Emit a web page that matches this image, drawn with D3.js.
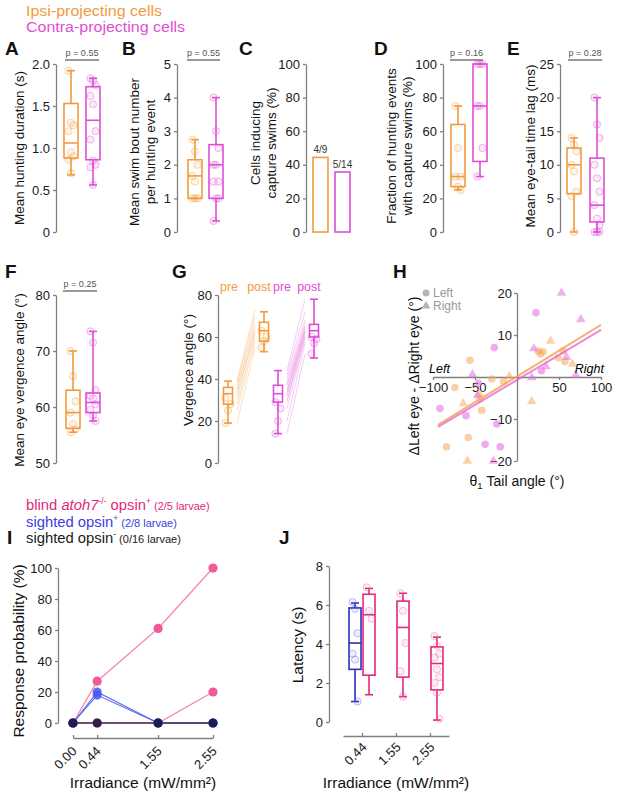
<!DOCTYPE html>
<html>
<head>
<meta charset="utf-8">
<script src="https://cdn.jsdelivr.net/npm/d3@7/dist/d3.min.js"></script>
<style>
  body { margin: 0; background: #fff; }
  svg { font-family: "Liberation Sans", Arial, sans-serif; }
  .axis path, .axis line { stroke: #808080; stroke-width: 1.3; }
  .axis text { font-size: 13px; fill: #1a1a1a; }
</style>
</head>
<body>
<svg id="fig" width="617" height="795"></svg>
<script>
// colours
const ORANGE = '#f29b3c';
const MAGENTA = '#df4ed6';
const PINK = '#e3287c';
const BLUE = '#2e2ec4';

// ---------- data ----------
const groups = ['ipsi', 'contra'];
// box stats: [whisker low, q1, median, q3, whisker high]
const durationIpsiBox = [0.68, 0.88, 1.06, 1.53, 1.92];
const durationContraBox = [0.56, 0.86, 1.33, 1.73, 1.83];
const durationIpsiPts = [1.92, 1.3, 1.27, 1.2, 0.95, 0.9, 0.86, 0.7];
const durationContraPts = [1.83, 1.8, 1.75, 1.62, 1.52, 1.2, 1.1, 0.85, 0.8, 0.77, 0.56];

const boutsIpsiBox = [1.0, 1.0, 1.67, 2.15, 2.75];
const boutsContraBox = [0.33, 1.0, 2.0, 2.6, 4.0];
const boutsIpsiPts = [2.75, 2.4, 2.0, 1.67, 1.5, 1.0, 1.0, 1.0];
const boutsContraPts = [4.0, 3.0, 2.5, 2.0, 2.0, 1.5, 1.5, 1.0, 1.0, 0.33];

const captureCellsPct = [44.4, 35.7];
const captureCellsLabels = ['4/9', '5/14'];

const fractionIpsiBox = [25, 27, 33, 64, 75];
const fractionContraBox = [33, 42, 75, 100, 100];
const fractionIpsiPts = [75, 50, 33, 33, 27, 25];
const fractionContraPts = [100, 100, 100, 75, 75, 50, 33];

const lagIpsiBox = [0, 5.7, 10, 12.5, 14];
const lagContraBox = [0, 1.5, 4, 11, 20];
const lagIpsiPts = [14, 13, 12, 10, 9, 6, 5.3, 0];
const lagContraPts = [20, 16, 14, 10, 8, 6, 4, 2, 1, 0, 0, 0];

const vergIpsiBox = [55.5, 56.2, 59, 63, 70];
const vergContraBox = [57.5, 59, 60.8, 62.5, 73.5];
const vergIpsiPts = [70, 65.5, 61, 59, 57, 56, 55.5];
const vergContraPts = [73.5, 71.5, 63, 62, 61.5, 60.5, 59.5, 58.5, 57.5];

const gKeys = ['ipsiPre', 'ipsiPost', 'contraPre', 'contraPost'];
const gBoxes = [[19, 28, 33, 36, 39], [53, 58, 63, 67, 72], [14, 29, 33, 37, 44], [50, 60, 63, 66, 78]];
const ipsiPre = [19, 25, 28, 31, 33, 35, 36, 38, 39];
const ipsiPost = [55, 58, 60, 63, 62, 65, 67, 70, 73];
const contraPre = [14, 20, 26, 29, 30, 32, 33, 34, 35, 37, 38, 40, 42, 44];
const contraPost = [52, 57, 59, 60, 61, 62, 63, 63, 64, 65, 66, 68, 72, 78];

// H: [tail angle, delta vergence]
const hIpsiLeft = [[-56, 4.0], [-74, -2.5], [-30, -0.5], [-16, -1.1], [-44, -5.2], [-42, -7.9], [-58, -14.4], [-84, -16.6], [25, 6.2], [28, 5.5], [31, 6.0], [49, 4.6], [57, 3.7], [55, 6.2]];
const hIpsiRight = [[-9, 0.1], [40, 8.6], [66, 3.1], [17.5, -5.8], [-64, -6.3], [-59, -20], [-45, -4]];
const hContraLeft = [[22.6, 15.3], [-27, 7.0], [-91.7, -7.5], [-60.7, -9.2], [-24, -11.2], [-38, -16], [-20, -16.6], [29, 1.5], [-46, -1.5]];
const hContraRight = [[53, 20], [76, 13.7], [20, 6.8], [34.5, 2.5], [59, 4.7], [-53, 0.6], [-47, -4.4], [70, 0.4], [17.5, -0.1], [-28, -20]];
const hIpsiFit = [[-94, -11.4], [100, 12.4]];
const hContraFit = [[-94, -11.9], [100, 11.2]];

// I
const irradiance = [0, 0.44, 1.55, 2.55];
const blindSeries = [[0, 27, 61, 100], [0, 0, 0, 20]];
const sightedSeries = [[0, 20, 0, 0], [0, 18, 0, 0]];
const opsinNegSeries = [[0, 0, 0, 0]];

// J
const latencyLevels = ['0.44', '1.55', '2.55'];
const latencySightedBox = [1.05, 2.7, 4.05, 5.85, 6.1];
const latencySightedPts = [6.15, 5.8, 4.55, 3.5, 3.2, 1.05];
const latencyBlindBoxes = [[1.4, 2.4, 5.5, 6.55, 6.85], [1.3, 2.3, 4.85, 6.2, 6.6], [0.1, 1.65, 3.0, 3.85, 4.35]];
const latencyBlindPts = [[6.9, 5.7, 5.3], [6.6, 5.7, 4.05, 2.6, 1.3], [4.4, 3.9, 3.5, 3.3, 2.7, 2.3, 2.0, 1.5, 0.15]];

// ---------- helpers ----------
const svg = d3.select('#fig');

function letter(t, x, y) {
    svg.append('text').attr('x', x).attr('y', y)
        .attr('font-size', 19).attr('font-weight', 'bold').attr('fill', '#111').text(t);
}

function yTitle(lines, x, y, size, gap) {
    const t = svg.append('text')
        .attr('transform', `translate(${x},${y}) rotate(-90)`)
        .attr('text-anchor', 'middle').attr('font-size', size).attr('fill', '#111');
    lines.forEach((l, i) => t.append('tspan').attr('x', 0).attr('dy', i ? gap : 0).text(l));
    return t;
}

function leftAxis(x, y, ticks, fmt) {
    return svg.append('g').attr('class', 'axis').attr('transform', `translate(${x},0)`)
        .call(d3.axisLeft(y).tickValues(ticks).tickFormat(fmt)
            .tickSizeInner(3).tickSizeOuter(0).tickPadding(3));
}

function drawBox(cx, y, s, color, w) {
    const [lo, q1, med, q3, hi] = s;
    const g = svg.append('g').attr('stroke', color).attr('stroke-width', 1.6).attr('fill', 'none');
    g.append('line').attr('x1', cx).attr('x2', cx).attr('y1', y(lo)).attr('y2', y(q1));
    g.append('line').attr('x1', cx).attr('x2', cx).attr('y1', y(q3)).attr('y2', y(hi));
    [lo, hi].forEach(v => g.append('line')
        .attr('x1', cx - 4).attr('x2', cx + 4).attr('y1', y(v)).attr('y2', y(v)));
    g.append('rect').attr('x', cx - w / 2).attr('y', y(q3))
        .attr('width', w).attr('height', y(q1) - y(q3));
    g.append('line').attr('x1', cx - w / 2).attr('x2', cx + w / 2)
        .attr('y1', y(med)).attr('y2', y(med));
}

function drawDots(cx, y, vals, color) {
    svg.append('g').selectAll('circle').data(vals).join('circle')
        .attr('cx', (d, i) => cx + ((i % 3) - 1) * 2.5)
        .attr('cy', d => y(d)).attr('r', 3.6)
        .attr('fill', color).attr('fill-opacity', 0.12)
        .attr('stroke', color).attr('stroke-opacity', 0.4).attr('stroke-width', 1);
}

function pValue(x1, x2, yLine, label) {
    svg.append('line').attr('x1', x1).attr('x2', x2).attr('y1', yLine).attr('y2', yLine)
        .attr('stroke', '#777').attr('stroke-width', 1.3);
    svg.append('text').attr('x', (x1 + x2) / 2).attr('y', yLine - 4)
        .attr('text-anchor', 'middle').attr('font-size', 9).attr('fill', '#555').text(label);
}

const fmt1 = d => d === 0 ? '0' : d.toFixed(1);
const fmt0 = d => String(d);

function boxPanel(o) {
    const y = d3.scaleLinear().domain(o.domain).range([o.bottom, o.top]);
    leftAxis(o.axisX, y, o.ticks, o.fmt);
    const x = d3.scalePoint().domain(groups).range(o.centers);
    const colors = [ORANGE, MAGENTA];
    groups.forEach((g, i) => {
        drawBox(x(g), y, o.boxes[i], colors[i], o.w || 14);
        drawDots(x(g), y, o.pts[i], colors[i]);
    });
    if (o.p) pValue(o.p[0], o.p[1], o.p[2], o.p[3]);
    return y;
}

// ---------- top legend ----------
svg.append('text').attr('x', 26).attr('y', 16).attr('font-size', 14).attr('fill', ORANGE)
    .attr('textLength', 136).attr('lengthAdjust', 'spacingAndGlyphs')
    .text('Ipsi-projecting cells');
svg.append('text').attr('x', 26).attr('y', 31.5).attr('font-size', 14).attr('fill', MAGENTA)
    .attr('textLength', 159).attr('lengthAdjust', 'spacingAndGlyphs')
    .text('Contra-projecting cells');

// ---------- A ----------
letter('A', 5, 55);
boxPanel({ axisX: 56, top: 64, bottom: 232, domain: [0, 2], ticks: [0, 0.5, 1, 1.5, 2], fmt: fmt1,
    centers: [71, 93], boxes: [durationIpsiBox, durationContraBox],
    pts: [durationIpsiPts, durationContraPts], p: [65, 99, 60, 'p = 0.55'] });
yTitle(['Mean hunting duration (s)'], 24, 148, 13.5, 0);

// ---------- B ----------
letter('B', 122, 55);
boxPanel({ axisX: 177, top: 64, bottom: 232, domain: [0, 5], ticks: [0, 1, 2, 3, 4, 5], fmt: fmt0,
    centers: [195, 216], boxes: [boutsIpsiBox, boutsContraBox],
    pts: [boutsIpsiPts, boutsContraPts], p: [187, 220, 60, 'p = 0.55'] });
yTitle(['Mean swim bout number', 'per hunting event'], 139, 152, 13.5, 16);

// ---------- C ----------
letter('C', 239, 55);
{
    const y = d3.scaleLinear().domain([0, 100]).range([232, 64]);
    leftAxis(306, y, [0, 20, 40, 60, 80, 100], fmt0);
    const x = d3.scaleBand().domain(groups).range([313, 350]).paddingInner(0.32).paddingOuter(0);
    const colors = [ORANGE, MAGENTA];
    svg.append('g').selectAll('rect').data(captureCellsPct).join('rect')
        .attr('x', (d, i) => x(groups[i])).attr('width', x.bandwidth())
        .attr('y', d => y(d)).attr('height', d => y(0) - y(d))
        .attr('fill', 'none').attr('stroke', (d, i) => colors[i]).attr('stroke-width', 1.6);
    svg.append('g').selectAll('text').data(captureCellsPct).join('text')
        .attr('x', (d, i) => x(groups[i]) + x.bandwidth() / 2).attr('y', d => y(d) - 4)
        .attr('text-anchor', 'middle').attr('font-size', 10).attr('fill', '#333')
        .text((d, i) => captureCellsLabels[i]);
}
yTitle(['Cells inducing', 'capture swims (%)'], 260, 143, 13.5, 16);

// ---------- D ----------
letter('D', 374, 55);
boxPanel({ axisX: 443, top: 64, bottom: 232, domain: [0, 100], ticks: [0, 20, 40, 60, 80, 100], fmt: fmt0,
    centers: [458, 480], boxes: [fractionIpsiBox, fractionContraBox],
    pts: [fractionIpsiPts, fractionContraPts], p: [450, 483, 60, 'p = 0.16'] });
yTitle(['Fraction of hunting events', 'with capture swims (%)'], 396, 146, 13.5, 15.5);

// ---------- E ----------
letter('E', 507, 55);
boxPanel({ axisX: 560, top: 64, bottom: 232, domain: [0, 25], ticks: [0, 5, 10, 15, 20, 25], fmt: fmt0,
    centers: [574, 597], boxes: [lagIpsiBox, lagContraBox],
    pts: [lagIpsiPts, lagContraPts], p: [568, 602, 60, 'p = 0.28'] });
yTitle(['Mean eye-tail time lag (ms)'], 535, 146, 13.5, 0);

// ---------- F ----------
letter('F', 5, 278);
boxPanel({ axisX: 56, top: 295, bottom: 463, domain: [50, 80], ticks: [50, 60, 70, 80], fmt: fmt0,
    centers: [73, 93], boxes: [vergIpsiBox, vergContraBox],
    pts: [vergIpsiPts, vergContraPts], p: [63, 97, 291, 'p = 0.25'] });
yTitle(['Mean eye vergence angle (°)'], 24, 380, 13.5, 0);

// ---------- G ----------
letter('G', 172, 278);
{
    const y = d3.scaleLinear().domain([0, 80]).range([463, 295]);
    leftAxis(218, y, [0, 20, 40, 60, 80], fmt0);
    const x = d3.scaleOrdinal().domain(gKeys).range([228, 264, 278, 314]);
    const pairs = [[ipsiPre, ipsiPost, ORANGE, '#f6b878'], [contraPre, contraPost, MAGENTA, '#ea8ee4']];
    pairs.forEach(([pre, post, col, light], k) => {
        const xa = x(gKeys[k * 2]) + 9, xb = x(gKeys[k * 2 + 1]) - 9;
        svg.append('g').selectAll('line').data(pre).join('line')
            .attr('x1', xa).attr('x2', xb)
            .attr('y1', d => y(d)).attr('y2', (d, i) => y(post[i]))
            .attr('stroke', light).attr('stroke-opacity', 0.45).attr('stroke-width', 1);
    });
    const cols = [ORANGE, ORANGE, MAGENTA, MAGENTA];
    const pts = [ipsiPre, ipsiPost, contraPre, contraPost];
    gKeys.forEach((k, i) => {
        drawBox(x(k), y, gBoxes[i], cols[i], 9);
        drawDots(x(k), y, pts[i].slice(0, 4), cols[i]);
    });
    const labels = ['pre', 'post', 'pre', 'post'];
    const labelX = [229, 259, 282, 309];
    svg.append('g').selectAll('text').data(labels).join('text')
        .attr('x', (d, i) => labelX[i]).attr('y', 291).attr('text-anchor', 'middle')
        .attr('font-size', 12.5).attr('fill', (d, i) => cols[i]).text(d => d);
}
yTitle(['Vergence angle (°)'], 193, 370, 13.5, 0);

// ---------- H ----------
letter('H', 393, 278);
{
    const x = d3.scaleLinear().domain([-100, 100]).range([433, 601]);
    const y = d3.scaleLinear().domain([-20, 20]).range([461, 293]);
    svg.append('g').attr('class', 'axis').attr('transform', `translate(0,${y(0)})`)
        .call(d3.axisBottom(x).tickValues([-100, -50, 50, 100]).tickSizeInner(3).tickSizeOuter(0).tickPadding(3))
        .selectAll('text').attr('font-size', 14);
    svg.append('g').attr('class', 'axis').attr('transform', `translate(${x(0)},0)`)
        .call(d3.axisLeft(y).tickValues([-20, -10, 10, 20]).tickSizeInner(3).tickSizeOuter(0).tickPadding(2))
        .selectAll('text').attr('font-size', 14);

    const circ = (data, col) => svg.append('g').selectAll('circle').data(data).join('circle')
        .attr('cx', d => x(d[0])).attr('cy', d => y(d[1])).attr('r', 3.8)
        .attr('fill', col).attr('fill-opacity', 0.55);
    const tri = (data, col) => svg.append('g').selectAll('path').data(data).join('path')
        .attr('d', d3.symbol(d3.symbolTriangle, 40))
        .attr('transform', d => `translate(${x(d[0])},${y(d[1])})`)
        .attr('fill', col).attr('fill-opacity', 0.5);
    circ(hIpsiLeft, '#f6a85a');
    tri(hIpsiRight, '#f6a85a');
    circ(hContraLeft, '#e266de');
    tri(hContraRight, '#e266de');

    const line = d3.line().x(d => x(d[0])).y(d => y(d[1]));
    svg.append('path').datum(hIpsiFit).attr('d', line)
        .attr('stroke', '#f3a35e').attr('stroke-width', 2).attr('fill', 'none').attr('opacity', 0.85);
    svg.append('path').datum(hContraFit).attr('d', line)
        .attr('stroke', '#e35fcf').attr('stroke-width', 2).attr('fill', 'none').attr('opacity', 0.75);

    svg.append('text').attr('x', 429).attr('y', 373).attr('font-size', 12.5)
        .attr('font-style', 'italic').text('Left');
    svg.append('text').attr('x', 604).attr('y', 373).attr('font-size', 12.5)
        .attr('font-style', 'italic').attr('text-anchor', 'end').text('Right');

    // legend
    svg.append('circle').attr('cx', 426).attr('cy', 293).attr('r', 3.5).attr('fill', '#b5b5b5');
    svg.append('path').attr('d', d3.symbol(d3.symbolTriangle, 34))
        .attr('transform', 'translate(426,306)').attr('fill', '#b5b5b5');
    svg.append('text').attr('x', 433).attr('y', 297).attr('font-size', 12).attr('fill', '#999').text('Left');
    svg.append('text').attr('x', 433).attr('y', 310).attr('font-size', 12).attr('fill', '#999').text('Right');

    const xt = svg.append('text').attr('x', 517).attr('y', 486).attr('text-anchor', 'middle')
        .attr('font-size', 14).attr('fill', '#111');
    xt.append('tspan').text('θ');
    xt.append('tspan').attr('font-size', 9.5).attr('dy', 3).text('1');
    xt.append('tspan').attr('dy', -3).text(' Tail angle (°)');
}
yTitle(['ΔLeft eye - ΔRight eye (°)'], 419, 376, 14, 0);

// ---------- I ----------
{
    const fs = 14.8;
    const l1 = svg.append('text').attr('x', 26).attr('y', 510).attr('font-size', fs).attr('fill', PINK);
    l1.append('tspan').text('blind ');
    l1.append('tspan').attr('font-style', 'italic').text('atoh7');
    l1.append('tspan').attr('font-size', 8.5).attr('dy', -6).text('-/-');
    l1.append('tspan').attr('dy', 6).text(' opsin');
    l1.append('tspan').attr('font-size', 8.5).attr('dy', -6).text('+');
    l1.append('tspan').attr('font-size', 11).attr('dy', 6).text(' (2/5 larvae)');

    const l2 = svg.append('text').attr('x', 26).attr('y', 526.5).attr('font-size', fs).attr('fill', '#3d3de0');
    l2.append('tspan').text('sighted opsin');
    l2.append('tspan').attr('font-size', 8.5).attr('dy', -6).text('+');
    l2.append('tspan').attr('font-size', 11).attr('dy', 6).text(' (2/8 larvae)');

    const l3 = svg.append('text').attr('x', 26).attr('y', 543).attr('font-size', fs).attr('fill', '#1a1a1a');
    l3.append('tspan').text('sighted opsin');
    l3.append('tspan').attr('font-size', 8.5).attr('dy', -6).text('-');
    l3.append('tspan').attr('font-size', 11).attr('dy', 6).text(' (0/16 larvae)');
}
letter('I', 7, 544);
{
    const y = d3.scaleLinear().domain([0, 100]).range([723, 568]);
    const x = d3.scaleLinear().domain([0, 2.55]).range([73, 213]);
    leftAxis(58, y, [0, 20, 40, 60, 80, 100], fmt0);
    svg.append('g').attr('class', 'axis').attr('transform', 'translate(0,738)')
        .call(d3.axisBottom(x).tickValues(irradiance).tickFormat(d3.format('.2f'))
            .tickSizeInner(-3).tickSizeOuter(0))
        .selectAll('text').attr('font-size', 14).attr('text-anchor', 'end')
        .attr('x', 0).attr('y', 0).attr('dy', 0)
        .attr('transform', 'translate(4,14) rotate(-45)');

    const line = d3.line().x((d, i) => x(irradiance[i])).y(d => y(d));
    const drawLines = (series, col, w) => svg.append('g').selectAll('path').data(series).join('path')
        .attr('d', line).attr('fill', 'none').attr('stroke', col).attr('stroke-width', w);
    const drawPts = (series, col, op) => series.forEach(s => svg.append('g').selectAll('circle').data(s).join('circle')
        .attr('cx', (d, i) => x(irradiance[i])).attr('cy', d => y(d)).attr('r', 4.6)
        .attr('fill', col).attr('fill-opacity', op));
    drawLines(blindSeries, '#f28ab2', 1.3);
    drawLines(sightedSeries, '#5a66ee', 1.1);
    drawLines(opsinNegSeries, '#3a3550', 1.3);
    drawPts(blindSeries, '#ef5a98', 1);
    drawPts(sightedSeries, '#4b58ee', 0.85);
    drawPts(opsinNegSeries, '#121236', 0.85);
}
yTitle(['Response probability (%)'], 24, 651, 15.5, 0);
svg.append('text').attr('x', 143).attr('y', 788).attr('text-anchor', 'middle')
    .attr('font-size', 15.5).attr('fill', '#111').text('Irradiance (mW/mm²)');

// ---------- J ----------
letter('J', 279, 544);
{
    const y = d3.scaleLinear().domain([0, 8]).range([722, 566]);
    const x = d3.scalePoint().domain(latencyLevels).range([343, 449]).padding(0.56);
    leftAxis(329, y, [0, 2, 4, 6, 8], fmt0).selectAll('text').attr('font-size', 14);
    svg.append('g').attr('class', 'axis').attr('transform', 'translate(0,736)')
        .call(d3.axisBottom(x).tickSizeInner(-3).tickSizeOuter(0))
        .selectAll('text').attr('font-size', 14).attr('text-anchor', 'end')
        .attr('x', 0).attr('y', 0).attr('dy', 0)
        .attr('transform', 'translate(5,12) rotate(-45)');

    drawBox(x('0.44') - 7, y, latencySightedBox, BLUE, 12);
    drawDots(x('0.44') - 7, y, latencySightedPts, '#6a6ae0');
    latencyLevels.forEach((lv, i) => {
        drawBox(x(lv) + 7, y, latencyBlindBoxes[i], PINK, 12);
        drawDots(x(lv) + 7, y, latencyBlindPts[i], '#ea6aa8');
    });
}
yTitle(['Latency (s)'], 303, 645, 15.5, 0);
svg.append('text').attr('x', 396).attr('y', 788).attr('text-anchor', 'middle')
    .attr('font-size', 15.5).attr('fill', '#111').text('Irradiance (mW/mm²)');
</script>
</body>
</html>
